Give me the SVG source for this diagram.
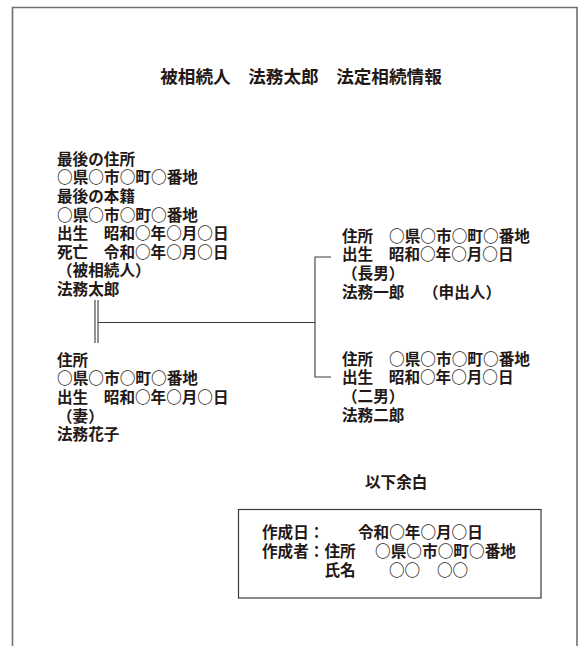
<svg xmlns="http://www.w3.org/2000/svg" width="584" height="646" viewBox="0 0 584 646">
<style>
.t{font-family:"Noto Sans CJK JP","Noto Sans CJK SC",sans-serif;font-weight:700;font-size:15.6px;fill:#231815}
.title{font-size:17.6px}
.ln{stroke:#3a3a3a;stroke-width:1.1;fill:none}
</style>
<rect width="584" height="646" fill="#fff"/>
<path d="M12.5,646 V7.5 H577 V646" fill="none" stroke="#707070" stroke-width="1.6"/>
<g id="title"><text class="t title" x="301" y="82.5" text-anchor="middle">被相続人　法務太郎　法定相続情報</text></g>
<g id="deceased">
<text class="t" x="57" y="164.7">最後の住所</text>
<text class="t" x="57" y="183.3" textLength="141" lengthAdjust="spacingAndGlyphs">○県○市○町○番地</text>
<text class="t" x="57" y="201.9">最後の本籍</text>
<text class="t" x="57" y="220.5" textLength="141" lengthAdjust="spacingAndGlyphs">○県○市○町○番地</text>
<text class="t" x="57" y="239.1">出生　昭和○年○月○日</text>
<text class="t" x="57" y="257.7">死亡　令和○年○月○日</text>
<text class="t" x="57" y="276.3">（被相続人）</text>
<text class="t" x="57" y="294.9">法務太郎</text>
</g>
<g id="wife">
<text class="t" x="57" y="365.7">住所</text>
<text class="t" x="57" y="384.3" textLength="141" lengthAdjust="spacingAndGlyphs">○県○市○町○番地</text>
<text class="t" x="57" y="402.9">出生　昭和○年○月○日</text>
<text class="t" x="57" y="421.5">（妻）</text>
<text class="t" x="57" y="440.1">法務花子</text>
</g>
<g id="son1">
<text class="t" x="342" y="241.7">住所</text>
<text class="t" x="389" y="241.7" textLength="141" lengthAdjust="spacingAndGlyphs">○県○市○町○番地</text>
<text class="t" x="342" y="260.3">出生　昭和○年○月○日</text>
<text class="t" x="342" y="278.9">（長男）</text>
<text class="t" x="342" y="297.5">法務一郎</text>
<text class="t" x="423" y="297.5">（申出人）</text>
</g>
<g id="son2">
<text class="t" x="342" y="364.7">住所</text>
<text class="t" x="389" y="364.7" textLength="141" lengthAdjust="spacingAndGlyphs">○県○市○町○番地</text>
<text class="t" x="342" y="383.3">出生　昭和○年○月○日</text>
<text class="t" x="342" y="401.9">（二男）</text>
<text class="t" x="342" y="420.5">法務二郎</text>
</g>
<g id="end"><text class="t" x="365" y="488.2">以下余白</text></g>
<g id="creator">
<rect x="238.5" y="509.5" width="302.5" height="88.5" fill="none" stroke="#3a3a3a" stroke-width="1.2"/>
<text class="t" x="262" y="538.2">作成日：</text>
<text class="t" x="358" y="538.2">令和○年○月○日</text>
<text class="t" x="262" y="556.8">作成者：住所</text>
<text class="t" x="375" y="556.8" textLength="141" lengthAdjust="spacingAndGlyphs">○県○市○町○番地</text>
<text class="t" x="324.4" y="575.6">氏名</text>
<text class="t" x="389" y="575.6">○○</text>
<text class="t" x="437" y="575.6">○○</text>
</g>
<g id="connectors">
<line class="ln" x1="95" y1="300" x2="95" y2="343"/>
<line class="ln" x1="98" y1="300" x2="98" y2="343"/>
<line class="ln" x1="98" y1="322.5" x2="315" y2="322.5"/>
<path class="ln" d="M331,257 H315 V377 H331"/>
</g>
</svg>
